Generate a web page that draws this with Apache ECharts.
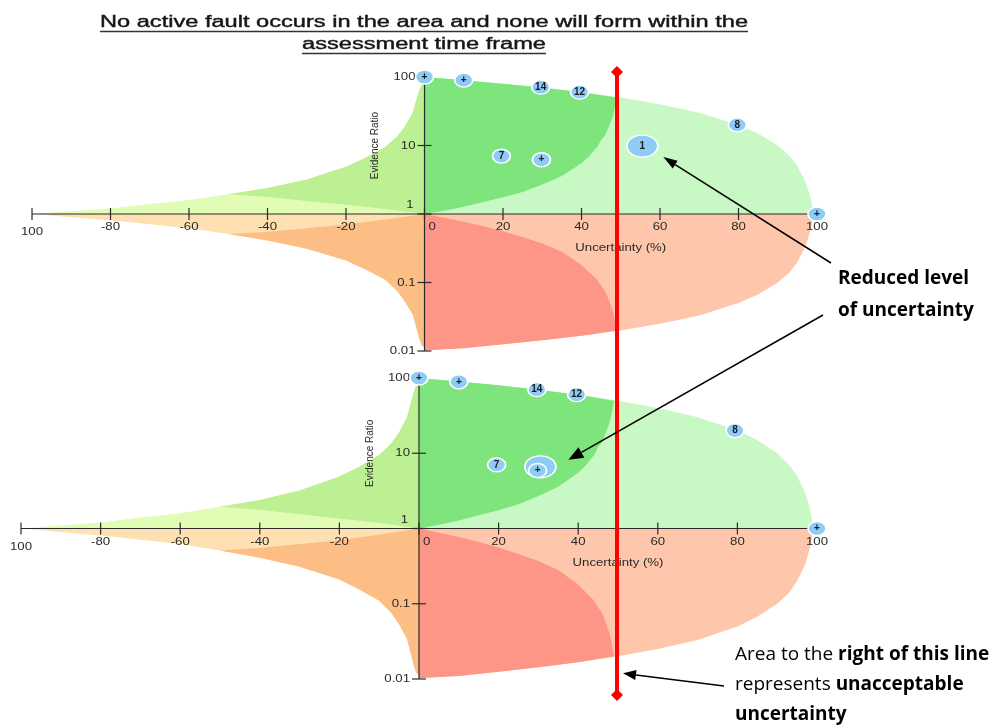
<!DOCTYPE html>
<html>
<head>
<meta charset="utf-8">
<script src="https://cdn.jsdelivr.net/npm/echarts@6/dist/echarts.min.js"></script>
<style>
  html, body { margin: 0; padding: 0; background: #ffffff; }
  #chart { width: 992px; height: 727px; }
</style>
</head>
<body>
<div id="chart"></div>
<script>
// ---- axis ticks ----
const xTicks = [-100, -80, -60, -40, -20, 0, 20, 40, 60, 80, 100];
const xTickLabels = ['100', '-80', '-60', '-40', '-20', '0', '20', '40', '60', '80', '100'];
const yTicks = [0.01, 0.1, 1, 10, 100];
const yTickLabels = ['0.01', '0.1', '1', '10', '100'];

// ---- region boundaries (uncertainty %, evidence ratio) ----
const rightU      = [0, 5, 10, 20, 30, 40, 50, 60, 70, 80, 85, 90, 93, 95, 97, 98, 98.7, 99];
const rightUpper  = [100, 95, 90, 80, 70, 60, 50, 40, 30, 20, 15, 10, 7, 5, 3, 2, 1.4, 1];
const rightLower  = [0.0102, 0.0106, 0.011, 0.0125, 0.0143, 0.0167, 0.02, 0.025, 0.033, 0.05, 0.067, 0.1, 0.14, 0.2, 0.33, 0.5, 0.72, 1];

const innerRightU     = [49, 48.5, 48, 47, 46, 45, 44, 42, 40, 35, 30, 25, 20, 15, 10, 5, 0];
const innerRightUpper = [50, 36, 27, 19, 14, 12, 9.5, 7, 5.5, 3.6, 2.7, 2.1, 1.75, 1.5, 1.28, 1.12, 1];
const innerRightLower = [0.02, 0.028, 0.038, 0.055, 0.075, 0.09, 0.11, 0.14, 0.18, 0.28, 0.37, 0.46, 0.56, 0.66, 0.77, 0.88, 1];

const leftU     = [-100, -90, -80, -70, -60, -50, -40, -30, -20, -15, -10, -7, -5, -3, -2, -1.3, -0.7, 0];
const leftUpper = [1, 1.1, 1.2, 1.4, 1.6, 1.95, 2.4, 3.2, 4.9, 6.6, 9.5, 13.5, 19, 30, 48, 65, 80, 85];
const leftLower = [1, 0.9, 0.81, 0.71, 0.62, 0.51, 0.41, 0.31, 0.21, 0.155, 0.11, 0.076, 0.053, 0.034, 0.021, 0.015, 0.012, 0.0115];

const innerLeftU     = [-50, -40, -30, -20, -10, 0];
const innerLeftUpper = [1.95, 1.78, 1.55, 1.36, 1.18, 1];
const innerLeftLower = [0.51, 0.55, 0.62, 0.7, 0.83, 1];

// ---- evidence nodes ----
const nodeLabels = ['+', '+', '14', '12', '8', '7', '+', '+'];
const topNodeU   = [0, 10, 29.6, 39.5, 79.7, 19.6, 29.8, 100];
const topNodeER  = [100, 90, 71, 60, 20, 7, 6.2, 1];
const botNodeU   = [0, 10, 29.6, 39.6, 79.4, 19.5, 29.8, 100];
const botNodeER  = [100, 89, 70, 60, 20, 7, 5.9, 1];

// node 1: before and after
const node1Label = '1';
const node1TopU = 55.5, node1TopER = 9.8;
const node1BotU = 30.5, node1BotER = 6.6;

// acceptable-uncertainty limit
const limitU = [50, 50];
const limitSpan = [0, 1];

// ---- helpers ----
const zip = (us, vs) => us.map((u, i) => [u, vs[i]]);
const FONT = '"Liberation Sans", Arial, sans-serif';
const AXIS_COLOR = '#2b2b2b';
const LABEL_COLOR = '#2a2a2a';
const TEXT_STRETCH = 1.2;

function buildRegions() {
  const upperOuterR = zip(rightU, rightUpper);
  const lowerOuterR = zip(rightU, rightLower);
  const upperInnerR = zip(innerRightU, innerRightUpper);
  const lowerInnerR = zip(innerRightU, innerRightLower);
  const cutR = innerRightU[0];

  const upperOuterL = zip(leftU, leftUpper);
  const lowerOuterL = zip(leftU, leftLower);
  const upperInnerL = zip(innerLeftU, innerLeftUpper);
  const lowerInnerL = zip(innerLeftU, innerLeftLower);
  const cutL = innerLeftU[0];

  return [
    { color: '#c8f9c4', pts: [[0, 1]].concat(upperOuterR) },
    { color: '#fec7ab', pts: [[0, 1]].concat(lowerOuterR) },
    { color: '#7ee47c', pts: upperOuterR.filter(p => p[0] < cutR).concat(upperInnerR) },
    { color: '#fd9686', pts: lowerOuterR.filter(p => p[0] < cutR).concat(lowerInnerR) },
    { color: '#e1fcb5', pts: upperOuterL.concat([[0, 1]]) },
    { color: '#fee0b3', pts: lowerOuterL.concat([[0, 1]]) },
    { color: '#bdef93', pts: upperOuterL.filter(p => p[0] >= cutL).concat(upperInnerL.slice().reverse()) },
    { color: '#fdbe86', pts: lowerOuterL.filter(p => p[0] >= cutL).concat(lowerInnerL.slice().reverse()) }
  ];
}

function regionSeries(gi) {
  const regions = buildRegions();
  return {
    type: 'custom', xAxisIndex: gi, yAxisIndex: gi, silent: true, z: 1, clip: false,
    data: regions.map(r => r.pts[0]),
    renderItem: (params, api) => {
      const r = regions[params.dataIndex];
      return {
        type: 'polygon',
        shape: { points: r.pts.map(p => api.coord(p)) },
        style: { fill: r.color }
      };
    }
  };
}

function axisSeries(gi) {
  return {
    type: 'custom', xAxisIndex: gi, yAxisIndex: gi, silent: true, z: 5, clip: false,
    data: [[0, 1]],
    renderItem: (params, api) => {
      const ch = [];
      const line = (a, b, w) => ch.push({
        type: 'line', shape: { x1: a[0], y1: a[1], x2: b[0], y2: b[1] },
        style: { stroke: AXIS_COLOR, lineWidth: w || 1.2 }
      });
      const text = (s, x, y, align, vAlign, extra) => ch.push(Object.assign({
        type: 'text', x: x, y: y, scaleX: TEXT_STRETCH,
        style: { text: s, fill: LABEL_COLOR, font: '11px ' + FONT, align: align, verticalAlign: vAlign }
      }, extra || {}));

      // horizontal axis at ER = 1
      line(api.coord([xTicks[0], 1]), api.coord([xTicks[xTicks.length - 1], 1]));
      xTicks.forEach((t, i) => {
        const c = api.coord([t, 1]);
        line([c[0], c[1] - 6], [c[0], c[1] + 6]);
        if (t === 0) text(xTickLabels[i], c[0] + 4, c[1] + 13, 'left', 'middle');
        else if (i === 0) text(xTickLabels[i], c[0], c[1] + 18, 'center', 'middle');
        else text(xTickLabels[i], c[0], c[1] + 13, 'center', 'middle');
      });
      // vertical axis at U = 0
      line(api.coord([0, yTicks[0]]), api.coord([0, yTicks[yTicks.length - 1]]));
      yTicks.forEach((t, i) => {
        const c = api.coord([0, t]);
        line([c[0] - 7, c[1]], [c[0] + 7, c[1]]);
        if (t === 1) text(yTickLabels[i], c[0] - 11, c[1] - 9, 'right', 'middle');
        else text(yTickLabels[i], c[0] - 9, c[1], 'right', 'middle');
      });
      // axis names
      const n1 = api.coord([50, 1]);
      text('Uncertainty (%)', n1[0], n1[1] + 34, 'center', 'middle');
      const n2 = api.coord([0, 10]);
      ch.push({
        type: 'text', x: n2[0] - 49, y: n2[1], rotation: Math.PI / 2,
        style: { text: 'Evidence Ratio', fill: LABEL_COLOR, font: '10px ' + FONT, align: 'center', verticalAlign: 'middle' }
      });
      return { type: 'group', children: ch };
    }
  };
}

function nodeSeries(gi, us, ers) {
  return {
    type: 'scatter', xAxisIndex: gi, yAxisIndex: gi, z: 10, clip: false, silent: true,
    data: us.map((u, i) => [u, ers[i]]),
    symbol: 'circle', symbolSize: [18, 14],
    itemStyle: { color: '#8ecbf5', borderColor: '#ffffff', borderWidth: 1.5, opacity: 1 },
    label: {
      show: true, position: 'inside',
      formatter: p => nodeLabels[p.dataIndex],
      fontFamily: FONT, fontSize: 10, fontWeight: 'bold', color: '#1c1c1c'
    }
  };
}

function bigNodeSeries(gi, u, er, label) {
  return {
    type: 'scatter', xAxisIndex: gi, yAxisIndex: gi, z: 9, clip: false, silent: true,
    data: [[u, er]],
    symbol: 'circle', symbolSize: [31, 22],
    itemStyle: { color: '#8ecbf5', borderColor: '#ffffff', borderWidth: 1.5, opacity: 1 },
    label: {
      show: !!label, position: 'inside', formatter: label || '',
      fontFamily: FONT, fontSize: 10, fontWeight: 'bold', color: '#1c1c1c'
    }
  };
}

const chart = echarts.init(document.getElementById('chart'), null, { renderer: 'canvas' });

const hiddenX = { type: 'value', min: -100, max: 100, show: false };
const hiddenLogY = { type: 'log', logBase: 10, min: 0.01, max: 100, show: false };

chart.setOption({
  animation: false,
  backgroundColor: '#ffffff',
  grid: [
    { left: 32, top: 77, width: 785, height: 274 },
    { left: 21, top: 378, width: 796, height: 301 },
    { left: 20, top: 72, width: 796, height: 623 }
  ],
  xAxis: [
    Object.assign({ gridIndex: 0 }, hiddenX),
    Object.assign({ gridIndex: 1 }, hiddenX),
    Object.assign({ gridIndex: 2 }, hiddenX)
  ],
  yAxis: [
    Object.assign({ gridIndex: 0 }, hiddenLogY),
    Object.assign({ gridIndex: 1 }, hiddenLogY),
    { gridIndex: 2, type: 'value', min: 0, max: 1, inverse: true, show: false }
  ],
  series: [
    regionSeries(0),
    axisSeries(0),
    bigNodeSeries(0, node1TopU, node1TopER, node1Label),
    nodeSeries(0, topNodeU, topNodeER),
    regionSeries(1),
    axisSeries(1),
    bigNodeSeries(1, node1BotU, node1BotER, null),
    nodeSeries(1, botNodeU, botNodeER),
    {
      type: 'line', xAxisIndex: 2, yAxisIndex: 2, z: 20, silent: true,
      data: limitU.map((u, i) => [u, limitSpan[i]]),
      symbol: 'diamond', symbolSize: 12, showSymbol: true,
      itemStyle: { color: '#ff0000' },
      lineStyle: { color: '#ff0000', width: 4 }
    }
  ]
});

// ---- title, notes and arrows ----
const measure = (() => {
  const ctx = document.createElement('canvas').getContext('2d');
  return (txt, font) => { ctx.font = font; return ctx.measureText(txt).width; };
})();

const titleLines = ['No active fault occurs in the area and none will form within the', 'assessment time frame'];
const TITLE_FONT = '16px ' + FONT;
const titleCx = 424;
const titleWidth = 648;
const titleStretch = titleWidth / measure(titleLines[0], TITLE_FONT);
const graphics = [];
titleLines.forEach((s, i) => {
  const y = 23 + i * 22;
  const w = measure(s, TITLE_FONT) * titleStretch;
  graphics.push({
    type: 'text', x: titleCx, y: y, scaleX: titleStretch, z: 100,
    style: { text: s, font: TITLE_FONT, fill: '#151515', stroke: '#151515', lineWidth: 0.4, align: 'center', verticalAlign: 'middle' }
  });
  graphics.push({ type: 'line', z: 100, shape: { x1: titleCx - w / 2, y1: y + 8.5, x2: titleCx + w / 2, y2: y + 8.5 }, style: { stroke: '#333', lineWidth: 1.3 } });
});

const NOTE_FONT = '"Liberation Sans Narrow", "Open Sans", sans-serif';
graphics.push({
  type: 'text', x: 838, y: 263, z: 100,
  style: {
    text: 'Reduced level\nof uncertainty', font: 'bold 19px ' + NOTE_FONT,
    fill: '#000', lineHeight: 32, verticalAlign: 'top'
  }
});
graphics.push({
  type: 'text', x: 735, y: 640, z: 100,
  style: {
    text: '{n|Area to the }{b|right of this line}\n{n|represents }{b|unacceptable}\n{b|uncertainty}',
    verticalAlign: 'top',
    rich: {
      n: { fontFamily: NOTE_FONT, fontSize: 19, fill: '#000', lineHeight: 30 },
      b: { fontFamily: NOTE_FONT, fontSize: 19, fontWeight: 'bold', fill: '#000', lineHeight: 30 }
    }
  }
});

function arrow(x1, y1, x2, y2, len, wid) {
  const a = Math.atan2(y2 - y1, x2 - x1);
  const bx = x2 - len * Math.cos(a), by = y2 - len * Math.sin(a);
  const nx = -Math.sin(a) * wid / 2, ny = Math.cos(a) * wid / 2;
  return [
    { type: 'line', z: 100, shape: { x1: x1, y1: y1, x2: bx, y2: by }, style: { stroke: '#000', lineWidth: 1.5 } },
    { type: 'polygon', z: 100, shape: { points: [[x2, y2], [bx + nx, by + ny], [bx - nx, by - ny]] }, style: { fill: '#000' } }
  ];
}

const pTop = chart.convertToPixel({ gridIndex: 0 }, [node1TopU, node1TopER]);
const pBot = chart.convertToPixel({ gridIndex: 1 }, [node1BotU, node1BotER]);
const pLim = chart.convertToPixel({ gridIndex: 2 }, [limitU[1], 0.97]);
graphics.push(...arrow(831, 263, pTop[0] + 21, pTop[1] + 11, 14, 9));
graphics.push(...arrow(823, 315, pBot[0] + 28, pBot[1] - 7, 15, 12));
graphics.push(...arrow(724, 686, pLim[0] + 6, pLim[1] - 3, 13, 10));

chart.setOption({ graphic: { elements: graphics } });
</script>
</body>
</html>
